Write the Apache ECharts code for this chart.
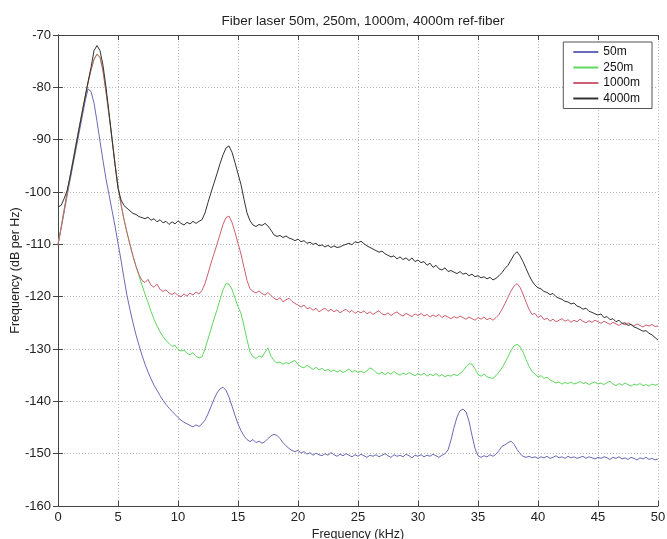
<!DOCTYPE html>
<html>
<head>
<meta charset="utf-8">
<script src="https://cdn.jsdelivr.net/npm/echarts@6/dist/echarts.min.js"></script>
<style>
  html, body { margin: 0; padding: 0; background: #fff; }
  #chart { width: 667px; height: 539px; }
</style>
</head>
<body>
<div id="chart"></div>
<script>
// Noise spectra of the fiber laser measured with four reference-fiber lengths.
// Samples every 0.25 kHz from 0 to 50 kHz, values in dB per Hz.
const FREQ_STEP = 0.25;
const seriesNames = ['50m', '250m', '1000m', '4000m'];
const seriesColors = ['#6a6ab8', '#5fd85f', '#cc5f70', '#333333'];
const xTicks = [0, 5, 10, 15, 20, 25, 30, 35, 40, 45, 50];
const yTicks = [-160, -150, -140, -130, -120, -110, -100, -90, -80, -70];

const fiber50m = [
  -110, -107, -104, -100.8, -97.8, -94.8, -91.8, -88.8, -85.8, -82.8, -80.3, -80.8, -83, -86.5, -90.3, -94, -97.5, -100.5, -103.5, -106.5, -109.8,
  -113, -116.5, -119.8, -122.5, -125, -127.3, -129.3, -131.2, -132.9, -134.4, -135.7, -136.9, -137.9, -138.9, -139.8, -140.6, -141.3, -141.9, -142.5, -143.1,
  -143.6, -144, -144.3, -144.6, -144.9, -144.5, -144.8, -144.3, -143.6, -142.4, -141, -139.6, -138.4, -137.6, -137.3, -137.9, -139.2, -140.9, -142.7, -144.3,
  -145.6, -146.6, -147.3, -147.7, -147.3, -147.9, -147.6, -148, -147.7, -147.1, -146.6, -146.3, -146.5, -147.1, -147.9, -148.5, -149, -149.4, -149.6, -149.4,
  -149.9, -149.6, -150.1, -149.8, -150.3, -149.9, -150.2, -150.4, -150, -150.3, -149.8, -150.2, -150.5, -150.1, -150.4, -150, -150.3, -150.6, -150.2, -150.5,
  -150.1, -150.4, -150.7, -150.3, -150.5, -150.2, -150.6, -150.3, -150, -150.4, -150.7, -150.2, -150.5, -150.3, -150.6, -150.1, -150.4, -150.8, -150.3, -150.5,
  -150.2, -150.6, -150.3, -150.5, -150.1, -150.4, -150.7, -150.3, -150, -149.3, -147.4, -145, -143, -141.8, -141.5, -142, -143.8, -146.5, -149, -150.4,
  -150.7, -150.4, -150.6, -150.2, -150.5, -150.1, -149.4, -148.6, -148.3, -147.9, -147.6, -148.2, -149.2, -150, -150.5, -150.7, -150.5, -150.8, -150.6, -150.9,
  -150.6, -150.8, -150.5, -150.9, -150.7, -150.4, -150.8, -150.6, -150.9, -150.5, -150.8, -150.6, -150.9, -150.7, -150.5, -150.9, -150.6, -150.8, -151, -150.7,
  -150.9, -150.6, -150.8, -151.1, -150.7, -150.9, -150.6, -151, -150.8, -151.1, -150.7, -150.9, -151.2, -150.8, -151, -150.7, -151.1, -150.9, -151.2, -151
];

const fiber250m = [
  -110, -106.8, -103.5, -100.2, -97, -93.9, -90.8, -87.8, -84.8, -81.9, -79.1, -76.6, -74.6, -73.6, -74.2, -76.8, -80.8, -85.2, -89.8, -94.5, -98.8,
  -102.3, -105.2, -107.7, -110, -112.2, -114.2, -116, -117.8, -119.5, -121.1, -122.8, -124.3, -125.6, -126.7, -127.6, -128.4, -128.9, -129.5, -129.3, -130.1,
  -130.4, -130.2, -130.8, -131.1, -130.7, -131.4, -131.7, -131.5, -130, -128.1, -126.2, -124.3, -122.5, -120.6, -118.7, -117.5, -117.6, -118.6, -120.3, -121.9,
  -123.2, -125.6, -128.2, -130.6, -131.5, -131.8, -131.3, -131.6, -130.6, -129.8, -131.4, -132.2, -132.7, -132.5, -132.9, -132.6, -132.8, -132.4, -132.2, -133,
  -133.4, -133.6, -133.1, -133.5, -133.9, -133.5, -134, -133.7, -134.2, -133.9, -134.3, -134, -134.4, -134.1, -134.5, -134.2, -133.8, -134.4, -134.1, -134.5,
  -134.2, -134.6, -134.1, -133.6, -133.9, -134.5, -134.8, -134.4, -134.9, -134.5, -134.8, -134.3, -134.7, -135, -134.6, -134.9, -134.5, -134.8, -135.1, -134.7,
  -135, -134.6, -135.2, -134.8, -135.1, -134.7, -135.2, -134.9, -135.3, -135, -135.2, -134.8, -135.1, -134.7, -134.2, -133.4, -132.8, -132.9, -133.8, -134.9,
  -135.2, -134.8, -135.3, -135.5, -135.6, -135.1, -134.4, -133.6, -132.6, -131.5, -130.3, -129.4, -129.1, -129.5, -130.6, -132, -133.3, -134.3, -134.8, -135.3,
  -135.1, -135.6, -135.4, -135.9, -136.2, -136.5, -136.3, -136.7, -136.4, -136.6, -136.3, -136.7, -136.5, -136.2, -136.6, -136.4, -136.8, -136.5, -136.3, -136.7,
  -136.5, -136.8, -136.4, -136.2, -136.7, -137, -136.6, -136.9, -136.5, -136.8, -137.1, -136.7, -136.9, -136.6, -137, -136.8, -137.1, -136.7, -136.9, -136.8
];

const fiber1000m = [
  -110.2, -107, -103.6, -100.3, -97.1, -94, -90.9, -87.9, -84.9, -82, -79.2, -76.7, -74.7, -73.7, -74.3, -76.9, -80.9, -85.3, -89.9, -94.6, -98.9,
  -102.4, -105.3, -107.8, -110.1, -112.3, -114.2, -115.8, -116.9, -117.3, -116.7, -117.8, -118.2, -117.6, -118.6, -119, -118.7, -119.3, -119.6, -119.2, -119.8,
  -120, -119.5, -119.9, -119.3, -119.7, -119.1, -119.5, -118.8, -117.5, -115.6, -113.6, -111.8, -110, -108.1, -106.2, -104.9, -104.6, -105.8, -107.7, -109.8,
  -111.9, -114.4, -116.9, -118.5, -119, -119.3, -118.9, -119.4, -119.7, -119.2, -119.8, -120.3, -120.6, -120.2, -121, -120.6, -120.3, -120.9, -121.3, -121.6,
  -122, -121.6, -122.3, -122.1, -122.6, -122.2, -122.9, -122.5, -122.2, -122.8, -122.4, -122.9, -122.5, -123.1, -122.7, -122.4, -123, -122.6, -123.2, -122.8,
  -123.1, -122.7, -123.3, -122.9, -123.4, -123, -122.7, -123.3, -123.5, -123.1, -123.6, -123.2, -122.9, -123.4, -123.7, -123.2, -123.5, -123.8, -123.3, -123.6,
  -123.2, -123.7, -123.4, -123.9, -123.5, -123.8, -123.4, -124, -123.6, -123.9, -124.2, -123.8, -124.1, -123.7, -124, -124.3, -123.9, -124.2, -124.5, -124,
  -124.3, -123.9, -124.4, -124.1, -124.5, -124, -123.4, -122.4, -121.3, -120.1, -118.9, -118, -117.5, -118.2, -119.5, -121, -122.4, -123.4, -123.2, -124,
  -123.6, -124.4, -124.1, -124.7, -124.3, -124.8, -124.5, -124.2, -124.7, -124.4, -124.9, -124.5, -124.8, -124.3, -124.7, -125, -124.6, -124.9, -124.5, -124.8,
  -125.1, -124.7, -125, -125.3, -124.9, -125.2, -125.5, -125.1, -125.4, -125, -125.3, -125.6, -125.2, -125.5, -125.8, -125.4, -125.6, -125.3, -125.7, -125.6
];

const fiber4000m = [
  -102.8, -102.6, -101.3, -99.8, -97.2, -94.2, -91.1, -88, -85, -82, -79, -76.2, -73, -72, -73, -75.8, -80, -84.8, -89.8, -94.8, -99.3,
  -101.5, -102.6, -103.1, -103.6, -104.1, -104.3, -104.7, -104.9, -105.1, -104.8, -105.4, -105.1, -105.7, -105.3, -105.9, -105.6, -106.2, -105.7, -106.1, -105.5,
  -106, -106.3, -105.8, -106.1, -105.6, -106, -105.6, -105.3, -104, -102, -100.1, -98.3, -96.5, -94.6, -92.9, -91.6, -91.2, -92.4, -94.4, -96.5,
  -98.6, -101.4, -104, -105.5, -106.3, -106.6, -106.2, -106.4, -106, -106.5, -107.3, -108.2, -108.5, -108.3, -108.7, -108.4, -108.8, -109, -109.3, -109,
  -109.5, -109.3, -109.8, -109.6, -110, -109.8, -110.3, -110.1, -110.5, -110.2, -110.6, -110.3, -110.6, -110.5, -110.2, -110, -109.8, -110.1, -109.5, -109.7,
  -109.4, -109.9, -110.3, -110.6, -110.9, -111.2, -111.5, -111.3, -111.8, -112.1, -112.4, -112.2, -112.8, -112.4, -112.9, -112.6, -113.1, -112.6, -113.3, -113,
  -113.5, -113.3, -114, -113.6, -114.4, -114, -114.7, -114.9, -114.5, -115.2, -115, -115.3, -115.6, -115.2, -115.7, -115.5, -116, -115.7, -116.2, -116,
  -116.4, -116.2, -116.6, -116.3, -116.8, -116.5, -116, -115.4, -114.6, -114, -113, -112, -111.4, -112.2, -113.3, -114.6, -115.9, -117, -117.8, -118.3,
  -118.5, -119, -119.2, -119.6, -119.4, -120, -120.3, -120.5, -120.9, -121, -121.4, -121.2, -121.8, -122, -122.4, -122.2, -122.8, -123, -123.3, -123.5,
  -123.3, -124, -123.8, -124.4, -124.2, -124.8, -124.5, -125.1, -125, -125.5, -125.3, -125.8, -126, -126.3, -126.6, -126.5, -127, -127.3, -127.8, -128.3
];

const seriesValues = [fiber50m, fiber250m, fiber1000m, fiber4000m];

// pair every level with its sample frequency
function toPoints(values) {
  return values.map((v, i) => [i * FREQ_STEP, v]);
}

const FONT = '"Liberation Sans", Arial, sans-serif';
const gridLine = { show: true, lineStyle: { color: '#b5b5b5', type: [1, 2], width: 1 } };
const frameLine = { show: true, lineStyle: { color: '#444', width: 1 } };
const innerTick = { show: true, inside: true, length: 5, lineStyle: { color: '#444' } };

const chart = echarts.init(document.getElementById('chart'), null, { renderer: 'canvas' });

chart.setOption({
  animation: false,
  backgroundColor: '#fff',
  title: {
    text: 'Fiber laser 50m, 250m, 1000m, 4000m ref-fiber',
    left: 358,
    textAlign: 'center',
    top: 9,
    textStyle: { fontFamily: FONT, fontSize: 13.5, fontWeight: 'normal', color: '#222' }
  },
  // fixed plot box; the axis name may run off the bottom edge
  grid: { left: 58, right: 9, top: 35, bottom: 33, containLabel: false, outerBoundsMode: 'none' },
  legend: {
    data: seriesNames,
    orient: 'vertical',
    right: 15,
    top: 42,
    padding: [4, 12, 4, 10],
    icon: 'rect',
    itemWidth: 25,
    itemHeight: 2,
    itemGap: 3.5,
    backgroundColor: '#fff',
    borderColor: '#555',
    borderWidth: 1,
    textStyle: { fontFamily: FONT, fontSize: 12, color: '#111' }
  },
  xAxis: [
    {
      type: 'value', min: xTicks[0], max: xTicks[xTicks.length - 1], interval: 5,
      name: 'Frequency (kHz)', nameLocation: 'middle', nameGap: 22, nameMoveOverlap: false,
      nameTextStyle: { fontFamily: FONT, fontSize: 12.5, color: '#222' },
      axisLine: frameLine,
      axisTick: innerTick,
      axisLabel: { fontFamily: FONT, fontSize: 13, color: '#222', margin: 5 },
      splitLine: gridLine
    },
    {
      type: 'value', position: 'top', min: xTicks[0], max: xTicks[xTicks.length - 1], interval: 5,
      axisLine: frameLine,
      axisTick: innerTick,
      axisLabel: { show: false },
      splitLine: { show: false }
    }
  ],
  yAxis: [
    {
      type: 'value', min: yTicks[0], max: yTicks[yTicks.length - 1], interval: 10,
      name: 'Frequency (dB per Hz)', nameLocation: 'middle', nameGap: 36, nameMoveOverlap: false,
      nameTextStyle: { fontFamily: FONT, fontSize: 12.5, color: '#222' },
      axisLine: frameLine,
      axisTick: innerTick,
      axisLabel: { fontFamily: FONT, fontSize: 13, color: '#222', margin: 7 },
      splitLine: gridLine
    },
    {
      type: 'value', position: 'right', min: yTicks[0], max: yTicks[yTicks.length - 1], interval: 10,
      axisLine: frameLine,
      axisTick: innerTick,
      axisLabel: { show: false },
      splitLine: { show: false }
    }
  ],
  series: seriesNames.map((name, k) => ({
    name: name,
    type: 'line',
    xAxisIndex: 0,
    yAxisIndex: 0,
    data: toPoints(seriesValues[k]),
    symbol: 'none',
    smooth: false,
    color: seriesColors[k],
    lineStyle: { width: 1, color: seriesColors[k] },
    z: 2 + k
  }))
});
</script>
</body>
</html>
